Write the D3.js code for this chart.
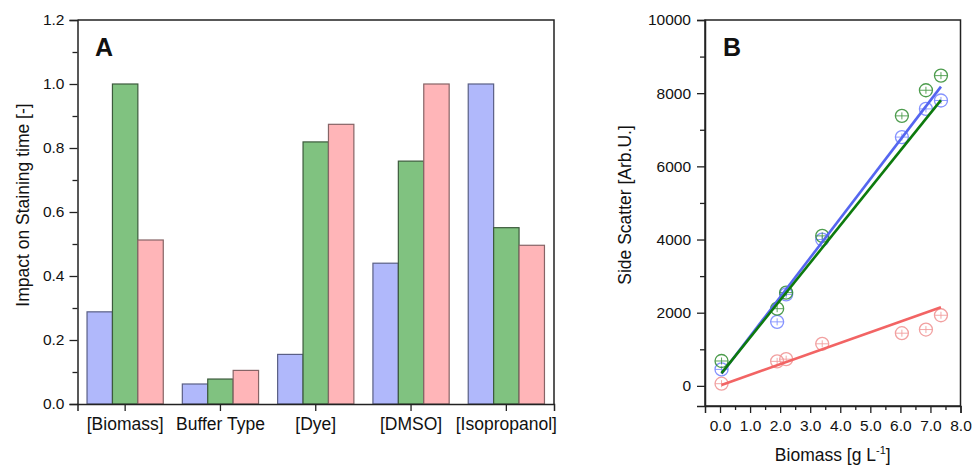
<!DOCTYPE html>
<html>
<head>
<meta charset="utf-8">
<script src="https://cdn.jsdelivr.net/npm/d3@7"></script>
<style>
  body { margin: 0; background: #fff; }
  svg { display: block; font-family: Arial, "Liberation Sans", sans-serif; }
</style>
</head>
<body>
<svg id="chart" width="973" height="467"></svg>
<script>
// ---------- Panel A data ----------
const categories = ["[Biomass]", "Buffer Type", "[Dye]", "[DMSO]", "[Isopropanol]"];
const seriesNames = ["blue", "green", "red"];
const valuesBlue = [0.288, 0.0625, 0.155, 0.44, 1.0];
const valuesGreen = [1.0, 0.078, 0.819, 0.759, 0.551];
const valuesRed = [0.5125, 0.105, 0.874, 1.0, 0.496];
const yTicksA = [0.0, 0.2, 0.4, 0.6, 0.8, 1.0, 1.2];
const yMinorA = [0.1, 0.3, 0.5, 0.7, 0.9, 1.1];

// ---------- Panel B data ----------
const biomassX = [0.05, 1.9, 2.2, 3.4, 6.05, 6.85, 7.35];
const sscBlue = [450, 1750, 2500, 4000, 6800, 7570, 7800];
const sscGreen = [680, 2110, 2550, 4100, 7380, 8080, 8480];
const sscRed = [60, 670, 730, 1150, 1440, 1540, 1930];
const fitX = [0.05, 7.35];
const fitBlue = [330, 8180];
const fitGreen = [350, 7810];
const fitRed = [25, 2150];
const yTicksB = [0, 2000, 4000, 6000, 8000, 10000];
const yMinorB = [1000, 3000, 5000, 7000, 9000];
const xTicksB = [0, 1, 2, 3, 4, 5, 6, 7, 8];
const xMinorB = [0.5, 1.5, 2.5, 3.5, 4.5, 5.5, 6.5, 7.5];

const svg = d3.select("#chart");
const axisColor = "#222";
const barFill = { blue: "#b0b8fb", green: "#80c280", red: "#ffb5b8" };
const barStroke = { blue: "#5a5f85", green: "#3c5a3c", red: "#866466" };

// ================= Panel A =================
const A = { left: 77.5, right: 554, top: 20, bottom: 404 };
const gA = svg.append("g");
const xA = d3.scaleBand().domain(categories).range([A.left, A.right]).paddingInner(0).paddingOuter(0);
const xInner = d3.scaleBand().domain(seriesNames).range([0, xA.bandwidth() * 0.8]);
const yA = d3.scaleLinear().domain([0, 1.2]).range([A.bottom, A.top]);

const seriesVals = { blue: valuesBlue, green: valuesGreen, red: valuesRed };
categories.forEach((c, i) => {
  const g0 = xA(c) + xA.bandwidth() * 0.1;
  seriesNames.forEach(s => {
    const v = seriesVals[s][i];
    gA.append("rect")
      .attr("x", g0 + xInner(s))
      .attr("y", yA(v))
      .attr("width", xInner.bandwidth())
      .attr("height", yA(0) - yA(v))
      .attr("fill", barFill[s])
      .attr("stroke", barStroke[s])
      .attr("stroke-width", 1.2);
  });
});

// frame
gA.append("path")
  .attr("d", `M${A.left},${A.top}H${A.right}V${A.bottom}`)
  .attr("fill", "none").attr("stroke", axisColor).attr("stroke-width", 1.5);

const yAxisA = d3.axisLeft(yA).tickValues(yTicksA).tickFormat(d3.format(".1f")).tickSize(8).tickPadding(5);
const gyA = gA.append("g").attr("transform", `translate(${A.left},0)`).call(yAxisA);
gA.append("g").attr("transform", `translate(${A.left},0)`)
  .call(d3.axisLeft(yA).tickValues(yMinorA).tickSize(5).tickFormat(""))
  .call(g => g.select(".domain").remove());

const xAxisA = d3.axisBottom(xA).tickSize(7).tickPadding(7);
const gxA = gA.append("g").attr("transform", `translate(0,${A.bottom})`).call(xAxisA);
gxA.selectAll("text").style("font-size", "17.5px").attr("fill", "#111");
gyA.selectAll("text").style("font-size", "15.5px").attr("fill", "#111");
[gyA, gxA].forEach(g => {
  g.select(".domain").attr("stroke", axisColor).attr("stroke-width", 1.5);
});
gA.selectAll(".tick line").attr("stroke", axisColor).attr("stroke-width", 1.3);

gA.append("text")
  .attr("transform", `translate(29,205) rotate(-90)`)
  .attr("text-anchor", "middle")
  .style("font-size", "17.5px").attr("fill", "#111")
  .text("Impact on Staining time [-]");

gA.append("text")
  .attr("x", 95).attr("y", 56)
  .style("font-size", "25px").style("font-weight", "bold").attr("fill", "#111")
  .text("A");

// ================= Panel B =================
const B = { left: 705, right: 960.5, top: 20, bottom: 406 };
const gB = svg.append("g");
const xB = d3.scaleLinear().domain([-0.5, 8]).range([B.left, B.right]);
const yB = d3.scaleLinear().domain([-550, 10000]).range([B.bottom, B.top]);

gB.append("rect")
  .attr("x", B.left).attr("y", B.top)
  .attr("width", B.right - B.left).attr("height", B.bottom - B.top)
  .attr("fill", "none").attr("stroke", axisColor).attr("stroke-width", 1.5);

const yAxisB = d3.axisLeft(yB).tickValues(yTicksB).tickFormat(d3.format("d")).tickSize(8).tickPadding(6);
const gyB = gB.append("g").attr("transform", `translate(${B.left},0)`).call(yAxisB);
gB.append("g").attr("transform", `translate(${B.left},0)`)
  .call(d3.axisLeft(yB).tickValues(yMinorB).tickSize(5).tickFormat(""))
  .call(g => g.select(".domain").remove());
const xAxisB = d3.axisBottom(xB).tickValues(xTicksB).tickFormat(d3.format(".1f")).tickSize(7).tickPadding(7);
const gxB = gB.append("g").attr("transform", `translate(0,${B.bottom})`).call(xAxisB);
gB.append("g").attr("transform", `translate(0,${B.bottom})`)
  .call(d3.axisBottom(xB).tickValues(xMinorB).tickSize(4).tickFormat(""))
  .call(g => g.select(".domain").remove());
[gyB, gxB].forEach(g => {
  g.select(".domain").attr("stroke", axisColor).attr("stroke-width", 1.5);
  g.selectAll("text").style("font-size", "15.5px").attr("fill", "#111");
});
gB.selectAll(".tick line").attr("stroke", axisColor).attr("stroke-width", 1.3);

gB.append("text")
  .attr("transform", `translate(631,205) rotate(-90)`)
  .attr("text-anchor", "middle")
  .style("font-size", "17.5px").attr("fill", "#111")
  .text("Side Scatter [Arb.U.]");

const xt = gB.append("text")
  .attr("x", (B.left + B.right) / 2).attr("y", 461)
  .attr("text-anchor", "middle")
  .style("font-size", "17.5px").attr("fill", "#111");
xt.append("tspan").text("Biomass [g L");
xt.append("tspan").attr("dy", -7).style("font-size", "11px").text("-1");
xt.append("tspan").attr("dy", 7).text("]");

gB.append("text")
  .attr("x", 723).attr("y", 56)
  .style("font-size", "25px").style("font-weight", "bold").attr("fill", "#111")
  .text("B");

// fit lines
const line = d3.line().x(d => xB(d[0])).y(d => yB(d[1]));
const fits = [
  { y: fitRed, color: "#f26464" },
  { y: fitBlue, color: "#5566f0" },
  { y: fitGreen, color: "#0d7a0d" }
];

// markers
const markerSets = [
  { y: sscRed, color: "#f09090" },
  { y: sscBlue, color: "#7080ff" },
  { y: sscGreen, color: "#2e8b2e" }
];
markerSets.forEach(ms => {
  const gm = gB.append("g").attr("stroke", ms.color).attr("fill", "none").attr("stroke-width", 1.3).attr("opacity", 0.85);
  biomassX.forEach((x, i) => {
    const cx = xB(x), cy = yB(ms.y[i]);
    gm.append("circle").attr("cx", cx).attr("cy", cy).attr("r", 6.5);
    gm.append("line").attr("x1", cx - 6.5).attr("x2", cx + 6.5).attr("y1", cy).attr("y2", cy).attr("stroke-width", 0.9);
    gm.append("line").attr("x1", cx).attr("x2", cx).attr("y1", cy - 3.5).attr("y2", cy + 3.5).attr("stroke-width", 0.9);
  });
});
fits.forEach(f => {
  gB.append("path")
    .datum(fitX.map((x, i) => [x, f.y[i]]))
    .attr("d", line)
    .attr("fill", "none").attr("stroke", f.color).attr("stroke-width", 2.6);
});
</script>
</body>
</html>
